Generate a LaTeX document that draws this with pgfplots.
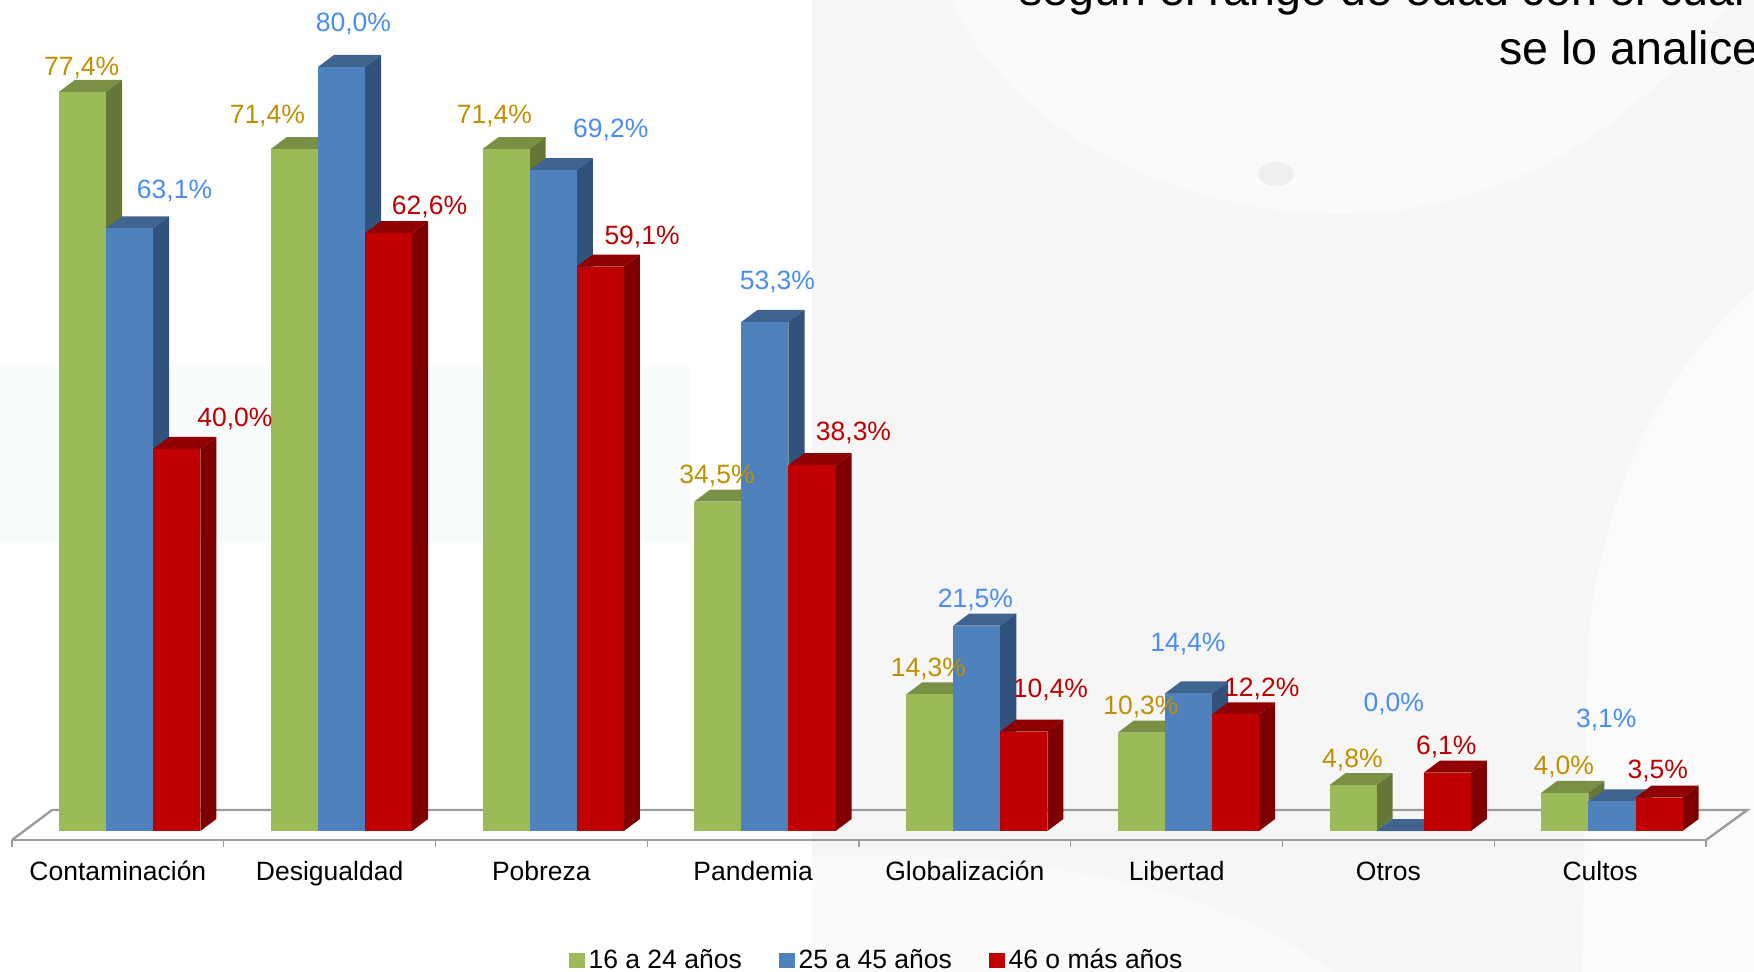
\documentclass[border=0pt]{standalone}
\usepackage{pgfplots}
\pgfplotsset{compat=1.18}
\usepackage{fontspec}
\setmainfont{Liberation Sans}
\definecolor{gf}{HTML}{9BBB59}\definecolor{gt}{HTML}{7A9145}\definecolor{gs}{HTML}{667837}
\definecolor{bf}{HTML}{4F81BD}\definecolor{bt}{HTML}{3F648F}\definecolor{bs}{HTML}{31527A}
\definecolor{rf}{HTML}{C00000}\definecolor{rt}{HTML}{900000}\definecolor{rs}{HTML}{7F0000}
\definecolor{lg}{HTML}{BF9000}\definecolor{lb}{HTML}{4A8CF5}\definecolor{lr}{HTML}{C00000}
\definecolor{floorc}{HTML}{9C9C9C}
\definecolor{bandc}{HTML}{F8FBFB}\definecolor{texm}{HTML}{F6F6F6}\definecolor{texl}{HTML}{FAFAFA}
\definecolor{texb}{HTML}{FAFBFB}\definecolor{texd}{HTML}{EFEFEF}
\newcommand{\bigbar}[6]{%
  \pgfmathsetmacro{\xa}{#1+0.222+#2*0.2225}%
  \pgfmathsetmacro{\xb}{\xa+0.2225}%
  \pgfmathsetmacro{\xc}{\xa+0.0756}%
  \pgfmathsetmacro{\xd}{\xb+0.0756}%
  \pgfmathsetmacro{\yt}{#3+1.256}%
  \addplot[fill=#5,draw=none,forget plot] coordinates {(\xa,#3)(\xb,#3)(\xd,\yt)(\xc,\yt)};
  \addplot[fill=#6,draw=none,forget plot] coordinates {(\xb,0)(\xd,1.256)(\xd,\yt)(\xb,#3)};
  \addplot[fill=#4,draw=none,forget plot] coordinates {(\xa,0)(\xb,0)(\xb,#3)(\xa,#3)};
}
\newcommand{\G}[3]{\bigbar{#1}{0}{#2}{gf}{gt}{gs}\bigbar{#1}{1}{#3}{bf}{bt}{bs}}
\newcommand{\R}[2]{\bigbar{#1}{2}{#2}{rf}{rt}{rs}}
\newcommand{\lbl}[4]{\node[text=#4,font=\fontsize{13.25}{16}\selectfont,inner sep=0pt] at (axis cs:{(#1*1.1186-12)/211.75},{(831-(#2+1.6)*1.1186)/9.553}) {#3};}
\begin{document}
\begin{tikzpicture}
\useasboundingbox (-6pt,-66pt) rectangle (871pt,420pt);
% slide background
\fill[white] (-6pt,-66pt) rectangle (871pt,420pt);
\fill[bandc] (-6pt,148.5pt) rectangle (339pt,236.5pt);
\fill[texm] (400pt,-66pt) rectangle (871pt,420pt);
\fill[texl] (470pt,420pt) .. controls (500pt,350pt) and (590pt,313pt) .. (663pt,313pt) .. controls (730pt,313pt) and (800pt,340pt) .. (860pt,420pt) -- cycle;
\fill[texb] (871pt,275pt) .. controls (820pt,230pt) and (795pt,170pt) .. (788pt,100pt) -- (785pt,-66pt) -- (871pt,-66pt) -- cycle;
\fill[texl] (400pt,-66pt) -- (400pt,-8pt) .. controls (500pt,-5pt) and (600pt,-20pt) .. (660pt,-66pt) -- cycle;
\fill[texd] (632pt,333pt) ellipse (9pt and 6pt);
\node[anchor=base west,inner sep=0pt,font=\fontsize{23.3}{28}\selectfont] at (503.5pt,417pt) {según el rango de edad con el cual};
\node[anchor=base west,inner sep=0pt,font=\fontsize{23.3}{28}\selectfont] at (743.5pt,387.5pt) {se lo analice};
\begin{axis}[
  at={(0,0)},anchor=south west,
  scale only axis,width=847pt,height=386.5pt,
  xmin=0,xmax=8,ymin=-0.942,ymax=80,
  clip=false,
  axis x line=bottom,axis y line=none,
  axis line style={floorc,line width=1.2pt,-},
  xtick={0.5,1.5,2.5,3.5,4.5,5.5,6.5,7.5},
  xticklabels={Contaminación,Desigualdad,Pobreza,Pandemia,Globalización,Libertad,Otros,Cultos},
  minor xtick={0,1,2,3,4,5,6,7,8},
  major tick length=0pt,minor tick length=3.5pt,
  tick align=outside,
  minor tick style={floorc,line width=0.6pt},
  xticklabel style={font=\fontsize{13.25}{16}\selectfont,text=black,anchor=base,yshift=-20.5pt,inner sep=0pt},
  legend style={at={(0.3288,-0.1555)},anchor=west,draw=none,fill=none,legend columns=3,
    font=\fontsize{13.25}{16}\selectfont,inner sep=0pt,
    /tikz/column 2/.style={column sep=16.8pt},/tikz/column 4/.style={column sep=16.8pt}},
  legend cell align=left,
]
\addlegendimage{legend image code/.code={\fill[gf] (0pt,-3.6pt) rectangle (7.2pt,3.6pt);}}
\addlegendentry{16 a 24 años}
\addlegendimage{legend image code/.code={\fill[bf] (0pt,-3.6pt) rectangle (7.2pt,3.6pt);}}
\addlegendentry{25 a 45 años}
\addlegendimage{legend image code/.code={\fill[rf] (0pt,-3.6pt) rectangle (7.2pt,3.6pt);}}
\addlegendentry{46 o más años}
% floor
\addplot[floorc,line width=1.2pt,forget plot] coordinates {(0,-0.942)(0.189,2.198)(8.195,2.198)(8,-0.942)};
% bars
\G{0}{77.4}{63.1}\R{0}{40.0}
\G{1}{71.4}{80.0}\R{1}{62.6}
\G{2}{71.4}{69.2}\R{2}{59.1}
\G{3}{34.5}{53.3}\R{3}{38.3}
\G{4}{14.3}{21.5}\R{4}{10.4}
\G{5}{10.3}{14.4}\R{5}{12.2}
\G{6}{4.8}{0.0}\R{6}{6.1}
\G{7}{4.0}{3.1}\R{7}{3.5}
% value labels
\lbl{73}{59}{77,4\%}{lg}\lbl{239}{102}{71,4\%}{lg}\lbl{442}{102}{71,4\%}{lg}\lbl{641}{424}{34,5\%}{lg}
\lbl{830}{596}{14,3\%}{lg}\lbl{1020}{630}{10,3\%}{lg}\lbl{1209}{678}{4,8\%}{lg}\lbl{1398}{684}{4,0\%}{lg}
\lbl{156}{169}{63,1\%}{lb}\lbl{316}{20}{80,0\%}{lb}\lbl{546}{114}{69,2\%}{lb}\lbl{695}{250}{53,3\%}{lb}
\lbl{872}{535}{21,5\%}{lb}\lbl{1062}{574}{14,4\%}{lb}\lbl{1246}{628}{0,0\%}{lb}\lbl{1436}{642}{3,1\%}{lb}
\lbl{210}{373}{40,0\%}{lr}\lbl{384}{183}{62,6\%}{lr}\lbl{574}{210}{59,1\%}{lr}\lbl{763}{385}{38,3\%}{lr}
\lbl{939}{615}{10,4\%}{lr}\lbl{1128}{614}{12,2\%}{lr}\lbl{1293}{666}{6,1\%}{lr}\lbl{1482}{688}{3,5\%}{lr}
\end{axis}
\end{tikzpicture}
\end{document}
